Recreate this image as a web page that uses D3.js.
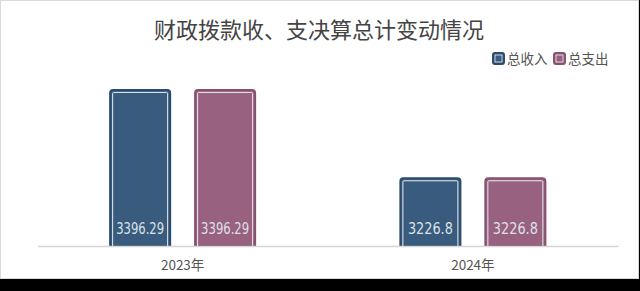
<!DOCTYPE html>
<html>
<head>
<meta charset="utf-8">
<script src="https://cdn.jsdelivr.net/npm/d3@7"></script>
<style>
  html, body { margin: 0; padding: 0; background: #000; }
  svg { display: block; }
</style>
</head>
<body>
<script>
var categories = ["2023年", "2024年"];
var seriesNames = ["总收入", "总支出"];
var income = [3396.29, 3226.8];
var expense = [3396.29, 3226.8];
var titleText = "财政拨款收、支决算总计变动情况";

var fills = ["#385b7e", "#98617f"];
var edges = ["#2c4c6d", "#87526f"];

var width = 640, height = 291;
var svg = d3.select("body").append("svg")
    .attr("width", width)
    .attr("height", height);

// white chart area with light frame, black strip below
svg.append("rect").attr("x", 0).attr("y", 0).attr("width", width).attr("height", height).attr("fill", "#000");
svg.append("rect")
    .attr("x", 0.5).attr("y", 0.5).attr("width", 638).attr("height", 278)
    .attr("fill", "#fff").attr("stroke", "#d9d9d9");

svg.append("text")
    .attr("x", 319).attr("y", 38)
    .attr("text-anchor", "middle")
    .attr("font-family", "Noto Sans CJK SC")
    .attr("font-size", 22)
    .attr("fill", "#444")
    .text(titleText);

var x0 = d3.scaleBand().domain(categories).range([37.5, 618]);
var x1 = d3.scaleBand().domain(seriesNames).range([0, 147]).paddingInner(0.27);
var y = d3.scaleLinear().domain([3095, 3400]).range([246, 87]);

var rows = categories.map(function(c, i) {
  return {cat: c, values: [income[i], expense[i]]};
});

function topRounded(x, yTop, w, h, r) {
  return "M" + x + "," + (yTop + h) +
    "V" + (yTop + r) +
    "Q" + x + "," + yTop + " " + (x + r) + "," + yTop +
    "H" + (x + w - r) +
    "Q" + (x + w) + "," + yTop + " " + (x + w) + "," + (yTop + r) +
    "V" + (yTop + h);
}

var groups = svg.selectAll("g.grp")
    .data(rows)
  .enter().append("g")
    .attr("class", "grp")
    .attr("transform", function(d) {
      return "translate(" + (x0(d.cat) + (x0.bandwidth() - 147) / 2) + ",0)";
    });

var bars = groups.selectAll("g.bar")
    .data(function(d) {
      return d.values.map(function(v, j) { return {name: seriesNames[j], value: v, j: j}; });
    })
  .enter().append("g")
    .attr("class", "bar");

bars.append("path")
    .attr("d", function(d) {
      var bx = x1(d.name) + 1, by = y(d.value) + 1;
      return topRounded(bx, by, x1.bandwidth() - 2, 246 - by, 3) + "Z";
    })
    .attr("fill", function(d) { return fills[d.j]; })
    .attr("stroke", function(d) { return edges[d.j]; })
    .attr("stroke-width", 2);

bars.append("path")
    .attr("d", function(d) {
      var bx = x1(d.name) + 3.5, by = y(d.value) + 3.5;
      return topRounded(bx, by, x1.bandwidth() - 7, 246 - by, 1);
    })
    .attr("fill", "none")
    .attr("stroke", "#e8edf2")
    .attr("stroke-width", 1);

// value labels: narrow digits, squeezed to the reference width
bars.append("text")
    .attr("x", function(d) { return x1(d.name) + x1.bandwidth() / 2 - (String(d.value).length > 6 ? 24 : 22.5); })
    .attr("y", 234)
    .attr("font-family", "DejaVu Sans")
    .attr("font-size", 15)
    .attr("textLength", function(d) { return String(d.value).length > 6 ? 48 : 45; })
    .attr("lengthAdjust", "spacingAndGlyphs")
    .attr("fill", "#dde2e8")
    .text(function(d) { return d.value; });

// x axis
var xAxis = svg.append("g")
    .attr("transform", "translate(0,246)")
    .call(d3.axisBottom(x0).tickSize(0).tickPadding(14));
xAxis.select(".domain").attr("stroke", "#d6d6d6").attr("stroke-width", 1.5);
xAxis.selectAll("text")
    .attr("font-family", "Noto Sans CJK SC")
    .attr("font-size", 13.5)
    .attr("fill", "#555");

// legend
var legend = svg.append("g");
var legX = [492, 553];
seriesNames.forEach(function(n, i) {
  legend.append("rect")
      .attr("x", legX[i] + 1).attr("y", 53).attr("width", 11).attr("height", 11).attr("rx", 2)
      .attr("fill", fills[i]).attr("stroke", edges[i]).attr("stroke-width", 2);
  legend.append("rect")
      .attr("x", legX[i] + 3).attr("y", 55).attr("width", 7).attr("height", 7)
      .attr("fill", "none").attr("stroke", "#e8edf2").attr("stroke-width", 0.8);
  legend.append("text")
      .attr("x", legX[i] + 15).attr("y", 64)
      .attr("font-family", "Noto Sans CJK SC")
      .attr("font-size", 13.5)
      .attr("fill", "#555")
      .text(n);
});
</script>
</body>
</html>
